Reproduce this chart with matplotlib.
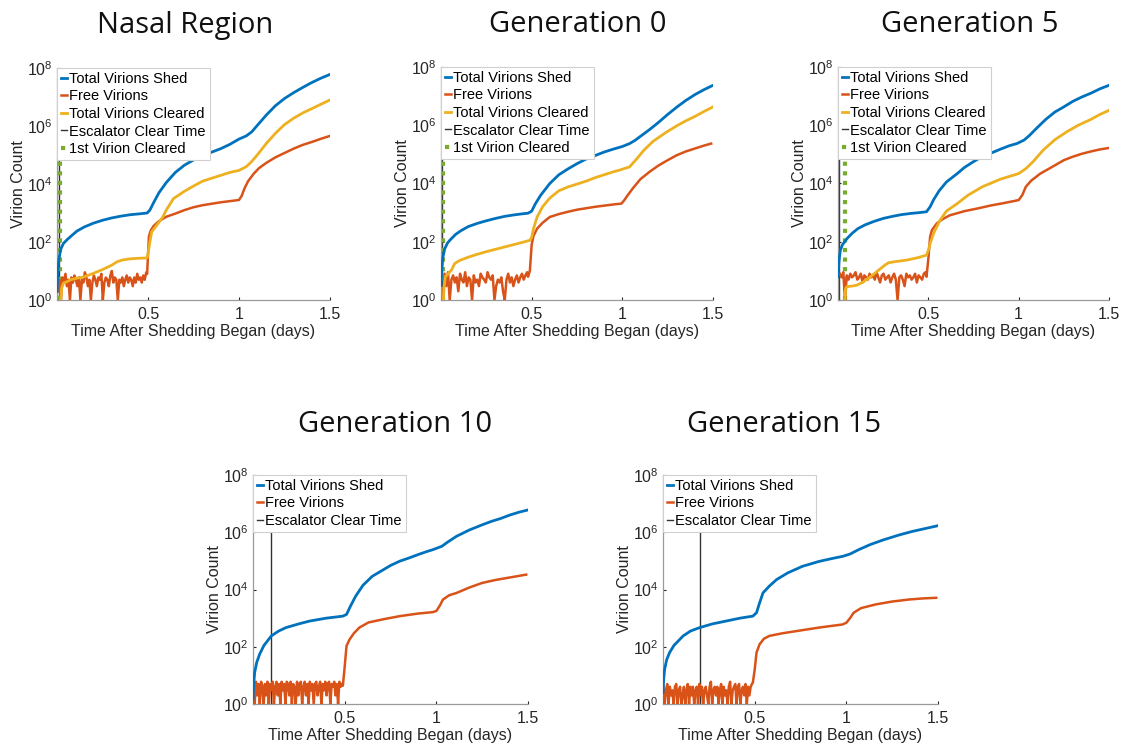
import numpy as np
import matplotlib.pyplot as plt

plt.rcParams['font.family'] = ['Liberation Sans', 'DejaVu Sans']

# MATLAB default colours
BLUE = '#0072bd'
ORANGE = '#d95319'
YELLOW = '#edb120'
GREEN = '#77ac30'

# ---------------- data (counts as log10) ----------------
# Nasal Region
nasal_shed_t = [0, 0.005, 0.01, 0.02, 0.035, 0.055, 0.08, 0.11, 0.15, 0.2, 0.25, 0.3, 0.35, 0.4, 0.45, 0.495,
                0.51, 0.53, 0.56, 0.6, 0.65, 0.7, 0.75, 0.8, 0.85, 0.9, 0.95, 1.0, 1.04, 1.07, 1.1, 1.15,
                1.2, 1.25, 1.3, 1.35, 1.4, 1.45, 1.5]
nasal_shed = [0.3, 1.0, 1.4, 1.75, 1.95, 2.08, 2.22, 2.38, 2.52, 2.65, 2.75, 2.83, 2.89, 2.94, 2.97, 3.0,
              3.1, 3.35, 3.7, 4.05, 4.4, 4.65, 4.83, 4.97, 5.1, 5.22, 5.37, 5.55, 5.66, 5.8, 6.02, 6.38,
              6.7, 6.95, 7.15, 7.33, 7.5, 7.65, 7.78]
nasal_free_early = [2, 5, 1, 6, 4, 8, 3, 5, 1, 6, 4, 7, 5, 3, 6, 1, 5, 4, 9, 6, 3, 5, 1, 4, 7, 5, 3, 6, 5, 8,
                    1, 4, 6, 5, 3, 7, 10, 4, 6, 5, 1, 5, 4, 6, 3, 5, 7, 4, 6, 5, 3, 6, 4, 8, 5, 6, 4, 7, 5, 9]
nasal_free_t = [0.495, 0.5, 0.505, 0.515, 0.53, 0.56, 0.6, 0.65, 0.7, 0.75, 0.8, 0.85, 0.9, 0.95, 1.0,
                1.015, 1.03, 1.05, 1.08, 1.11, 1.15, 1.2, 1.25, 1.3, 1.35, 1.4, 1.45, 1.5]
nasal_free = [0.9, 1.6, 2.2, 2.4, 2.55, 2.72, 2.87, 2.98, 3.1, 3.2, 3.27, 3.32, 3.37, 3.41, 3.45,
              3.6, 3.85, 4.1, 4.35, 4.55, 4.73, 4.92, 5.07, 5.22, 5.35, 5.45, 5.56, 5.66]
nasal_clr_t = [0.02, 0.025, 0.035, 0.05, 0.075, 0.1, 0.15, 0.2, 0.25, 0.3, 0.33, 0.36, 0.4, 0.45, 0.495,
               0.5, 0.51, 0.52, 0.55, 0.58, 0.6, 0.64, 0.7, 0.75, 0.8, 0.85, 0.9, 0.95, 1.0, 1.04, 1.07,
               1.1, 1.15, 1.2, 1.25, 1.3, 1.35, 1.4, 1.45, 1.5]
nasal_clr = [0, 0.4, 0.58, 0.62, 0.7, 0.74, 0.8, 0.92, 1.05, 1.2, 1.32, 1.38, 1.42, 1.44, 1.45,
             1.6, 2.0, 2.35, 2.6, 2.85, 3.1, 3.5, 3.75, 3.93, 4.1, 4.2, 4.3, 4.4, 4.47, 4.6, 4.78,
             5.0, 5.4, 5.75, 6.05, 6.27, 6.45, 6.6, 6.75, 6.9]
nasal_esc = 0.012
nasal_first = 0.016

# Generation 0
gen0_shed_t = [0, 0.005, 0.01, 0.02, 0.035, 0.05, 0.08, 0.11, 0.15, 0.2, 0.25, 0.3, 0.35, 0.4, 0.45, 0.48,
               0.5, 0.52, 0.55, 0.6, 0.65, 0.7, 0.75, 0.8, 0.85, 0.9, 0.95, 1.0, 1.04, 1.07, 1.1, 1.15,
               1.2, 1.25, 1.3, 1.35, 1.4, 1.45, 1.5]
gen0_shed = [0.5, 1.1, 1.45, 1.75, 1.95, 2.06, 2.25, 2.38, 2.52, 2.63, 2.72, 2.8, 2.87, 2.92, 2.96, 2.98,
             3.05, 3.3, 3.6, 4.0, 4.3, 4.5, 4.68, 4.84, 4.96, 5.08, 5.18, 5.27, 5.37, 5.48, 5.62, 5.85,
             6.1, 6.37, 6.62, 6.85, 7.05, 7.22, 7.37]
gen0_free_early = [1, 8, 3, 9, 1, 5, 7, 4, 6, 2, 8, 5, 4, 9, 3, 6, 5, 1, 7, 4, 5, 3, 8, 6, 5,
                   4, 9, 6, 5, 7, 1, 3, 5, 4, 6, 2, 1, 5, 8, 4, 6, 3, 5, 7, 4, 6, 8, 5, 7, 9]
gen0_free_t = [0.48, 0.49, 0.5, 0.51, 0.53, 0.56, 0.6, 0.65, 0.7, 0.75, 0.8, 0.85, 0.9, 0.95, 0.995,
               1.01, 1.03, 1.06, 1.1, 1.15, 1.2, 1.25, 1.3, 1.35, 1.4, 1.45, 1.49]
gen0_free = [0.8, 1.0, 1.9, 2.2, 2.45, 2.65, 2.85, 2.95, 3.03, 3.1, 3.15, 3.2, 3.24, 3.28, 3.31,
             3.42, 3.6, 3.85, 4.15, 4.4, 4.62, 4.8, 4.97, 5.1, 5.2, 5.3, 5.37]
gen0_clr_t = [0.013, 0.018, 0.024, 0.04, 0.06, 0.075, 0.1, 0.15, 0.2, 0.25, 0.3, 0.35, 0.4, 0.45, 0.49,
              0.5, 0.51, 0.53, 0.56, 0.6, 0.65, 0.7, 0.75, 0.8, 0.85, 0.9, 0.95, 0.985, 1.04, 1.08,
              1.12, 1.17, 1.24, 1.3, 1.35, 1.4, 1.45, 1.5]
gen0_clr = [0, 0.5, 0.8, 0.9, 1.05, 1.25, 1.35, 1.47, 1.57, 1.66, 1.74, 1.82, 1.9, 1.98, 2.05,
            2.15, 2.45, 2.85, 3.2, 3.5, 3.75, 3.88, 3.98, 4.08, 4.2, 4.3, 4.4, 4.46, 4.57, 4.85,
            5.15, 5.45, 5.75, 5.98, 6.15, 6.3, 6.47, 6.63]
gen0_esc = 0.008
gen0_first = 0.011

# Generation 5
gen5_shed_t = [0, 0.005, 0.013, 0.025, 0.05, 0.08, 0.11, 0.15, 0.2, 0.25, 0.3, 0.35, 0.4, 0.45, 0.49,
               0.51, 0.53, 0.56, 0.6, 0.66, 0.7, 0.75, 0.8, 0.85, 0.9, 0.95, 0.99, 1.03, 1.06, 1.1,
               1.15, 1.2, 1.25, 1.3, 1.35, 1.4, 1.45, 1.5]
gen5_shed = [0.8, 1.3, 1.71, 1.9, 2.11, 2.3, 2.45, 2.58, 2.7, 2.8, 2.87, 2.93, 2.97, 3.0, 3.03,
             3.2, 3.45, 3.75, 4.05, 4.34, 4.55, 4.75, 4.93, 5.05, 5.18, 5.3, 5.37, 5.49, 5.65, 5.9,
             6.2, 6.45, 6.63, 6.82, 6.97, 7.1, 7.25, 7.37]
gen5_free_early = [8, 6, 9, 1, 7, 5, 8, 6, 7, 9, 5, 6, 8, 4, 7, 6, 5, 8, 6, 7, 5, 9, 6, 4, 7,
                   8, 5, 6, 7, 4, 6, 8, 5, 1, 6, 7, 5, 3, 8, 6, 7, 5, 6, 8, 4, 7, 6, 5, 8, 9]
gen5_free_t = [0.49, 0.5, 0.51, 0.52, 0.547, 0.58, 0.62, 0.7, 0.77, 0.85, 0.92, 1.0, 1.02, 1.04, 1.07,
               1.12, 1.18, 1.25, 1.3, 1.35, 1.4, 1.45, 1.5]
gen5_free = [0.8, 1.4, 2.17, 2.4, 2.63, 2.78, 2.91, 3.05, 3.14, 3.25, 3.33, 3.43, 3.6, 3.89, 4.1,
             4.34, 4.55, 4.8, 4.92, 5.02, 5.1, 5.17, 5.22]
gen5_clr_t = [0.038, 0.042, 0.05, 0.08, 0.105, 0.14, 0.18, 0.22, 0.26, 0.28, 0.32, 0.38, 0.44, 0.49,
              0.5, 0.51, 0.53, 0.565, 0.6, 0.66, 0.72, 0.8, 0.9, 1.0, 1.04, 1.08, 1.135, 1.2, 1.265,
              1.33, 1.4, 1.45, 1.5]
gen5_clr = [0, 0.4, 0.46, 0.48, 0.51, 0.62, 0.8, 1.0, 1.2, 1.28, 1.32, 1.37, 1.45, 1.54,
            1.7, 1.94, 2.3, 2.74, 3.05, 3.31, 3.6, 3.89, 4.15, 4.34, 4.51, 4.75, 5.14, 5.5, 5.77,
            6.0, 6.2, 6.37, 6.51]
gen5_esc = 0.004
gen5_first = 0.037

# Generation 10
gen10_shed_t = [0, 0.004, 0.009, 0.02, 0.036, 0.06, 0.1, 0.14, 0.18, 0.25, 0.31, 0.4, 0.49, 0.51, 0.53,
                0.56, 0.6, 0.65, 0.7, 0.75, 0.8, 0.85, 0.9, 0.95, 0.98, 1.03, 1.06, 1.11, 1.18, 1.25,
                1.3, 1.35, 1.4, 1.45, 1.5]
gen10_shed = [0.17, 0.7, 1.1, 1.45, 1.74, 2.05, 2.38, 2.55, 2.67, 2.8, 2.9, 3.0, 3.07, 3.13, 3.4,
              3.77, 4.15, 4.46, 4.65, 4.84, 4.99, 5.1, 5.22, 5.33, 5.39, 5.51, 5.65, 5.86, 6.08, 6.26,
              6.38, 6.48, 6.6, 6.7, 6.78]
gen10_free_early = [5, 1, 6, 2, 5, 1, 6, 4, 1, 5, 2, 6, 1, 5, 3, 6, 1, 4, 6, 2, 5, 1, 6, 3, 5,
                    1, 6, 5, 2, 6, 1, 5, 4, 1, 6, 2, 5, 6, 1, 4, 6, 2, 5, 1, 6, 3, 5, 1, 5, 6,
                    2, 4, 6, 1, 5, 3, 6, 2, 5, 6, 1, 5, 4, 6, 2, 5, 1, 6, 4, 5]
gen10_free_t = [0.49, 0.5, 0.51, 0.527, 0.55, 0.58, 0.63, 0.71, 0.8, 0.9, 0.98, 1.0, 1.02, 1.036, 1.07,
                1.11, 1.18, 1.25, 1.32, 1.4, 1.49]
gen10_free = [0.64, 1.3, 2.03, 2.26, 2.47, 2.67, 2.85, 2.96, 3.07, 3.16, 3.21, 3.25, 3.45, 3.65, 3.8,
              3.88, 4.07, 4.23, 4.33, 4.42, 4.52]
gen10_esc = 0.097

# Generation 15
gen15_shed_t = [0, 0.004, 0.009, 0.02, 0.036, 0.06, 0.11, 0.15, 0.2, 0.27, 0.345, 0.42, 0.49, 0.51, 0.525,
                0.545, 0.58, 0.62, 0.68, 0.76, 0.85, 0.92, 0.98, 1.02, 1.07, 1.13, 1.2, 1.29, 1.36,
                1.43, 1.5]
gen15_shed = [0.4, 0.9, 1.22, 1.55, 1.8, 2.05, 2.38, 2.55, 2.67, 2.8, 2.9, 3.0, 3.07, 3.19, 3.5,
              3.88, 4.12, 4.35, 4.58, 4.81, 4.98, 5.08, 5.16, 5.24, 5.4, 5.57, 5.73, 5.91, 6.03,
              6.13, 6.23]
gen15_free_early = [4, 1, 3, 5, 1, 4, 2, 3, 1, 4, 5, 1, 3, 4, 1, 2, 4, 1, 3, 5, 1, 4, 2, 4, 1,
                    3, 4, 1, 5, 2, 4, 1, 3, 4, 2, 1, 4, 6, 1, 3, 4, 2, 4, 1, 3, 5, 1, 4, 2, 3,
                    1, 4, 6, 1, 3, 4, 5, 1, 4, 5, 1, 3, 4, 2, 5, 1, 4, 2, 4, 5]
gen15_free_t = [0.49, 0.5, 0.51, 0.527, 0.55, 0.58, 0.65, 0.73, 0.85, 0.98, 1.0, 1.02, 1.04, 1.08,
                1.16, 1.25, 1.34, 1.42, 1.49]
gen15_free = [0.75, 1.2, 1.8, 2.09, 2.28, 2.38, 2.47, 2.55, 2.67, 2.78, 2.84, 3.0, 3.19, 3.35,
              3.48, 3.58, 3.65, 3.69, 3.71]
gen15_esc = 0.204

titles = ['Nasal Region', 'Generation 0', 'Generation 5', 'Generation 10', 'Generation 15']


def draw_panel(ax, shed_t, shed, free_early, early_span, free_t, free, esc,
               clr_t=None, clr=None, first=None):
    t_early = np.linspace(early_span[0], early_span[1], len(free_early))
    ft = np.concatenate([t_early, free_t])
    fv = np.concatenate([free_early, 10.0 ** np.array(free)])
    ax.plot(shed_t, 10.0 ** np.array(shed), color=BLUE, lw=2, label='Total Virions Shed', zorder=4)
    ax.plot(ft, fv, color=ORANGE, lw=1.8, label='Free Virions', zorder=3)
    if clr is not None:
        ax.plot(clr_t, 10.0 ** np.array(clr), color=YELLOW, lw=2,
                label='Total Virions Cleared', zorder=3.5)
    ax.plot([esc, esc], [1, 1e8], color='#333333', lw=1, label='Escalator Clear Time', zorder=2)
    if first is not None:
        ax.plot([first, first], [1, 1e8], color=GREEN, lw=3, ls=(0, (1, 1.3)),
                label='1st Virion Cleared', zorder=2.5)

    ax.set_yscale('log')
    ax.set_xlim(0, 1.5)
    ax.set_ylim(1, 1e8)
    ax.set_yticks([1, 1e2, 1e4, 1e6, 1e8])
    ax.minorticks_off()
    ax.set_xticks([0.5, 1, 1.5])
    ax.set_xticklabels(['0.5', '1', '1.5'])
    ax.tick_params(direction='in', length=2, labelsize=11.5, colors='#262626')
    ax.tick_params(axis='x', pad=5)
    ax.tick_params(axis='y', pad=3)
    for s in ['top', 'right']:
        ax.spines[s].set_visible(False)
    for s in ['left', 'bottom']:
        ax.spines[s].set_color('#9a9a9a')
        ax.spines[s].set_linewidth(0.9)
    ax.set_xlabel('Time After Shedding Began (days)', fontsize=11.5, color='#262626', labelpad=1.5)
    ax.set_ylabel('Virion Count', fontsize=11.5, color='#262626', labelpad=1)
    leg = ax.legend(loc='upper left', bbox_to_anchor=(0, 1), borderaxespad=0,
                    fontsize=10.5, handlelength=0.45, handletextpad=0.15,
                    labelspacing=0.25, borderpad=0.25, fancybox=False,
                    framealpha=1, edgecolor='#d0d0d0')
    leg.get_frame().set_linewidth(0.8)
    leg.set_zorder(10)


fig = plt.figure(figsize=(11.23, 7.45), dpi=100)

boxes = [
    [0.0508, 0.5973, 0.2431, 0.3114],
    [0.3927, 0.5973, 0.2422, 0.3128],
    [0.7462, 0.5973, 0.2413, 0.3128],
    [0.2253, 0.0550, 0.2449, 0.3074],
    [0.5904, 0.0550, 0.2449, 0.3074],
]
axs = [fig.add_axes(b) for b in boxes]

draw_panel(axs[0], nasal_shed_t, nasal_shed, nasal_free_early, (0.005, 0.49),
           nasal_free_t, nasal_free, nasal_esc, nasal_clr_t, nasal_clr, nasal_first)
draw_panel(axs[1], gen0_shed_t, gen0_shed, gen0_free_early, (0.01, 0.475),
           gen0_free_t, gen0_free, gen0_esc, gen0_clr_t, gen0_clr, gen0_first)
draw_panel(axs[2], gen5_shed_t, gen5_shed, gen5_free_early, (0.01, 0.485),
           gen5_free_t, gen5_free, gen5_esc, gen5_clr_t, gen5_clr, gen5_first)
draw_panel(axs[3], gen10_shed_t, gen10_shed, gen10_free_early, (0.002, 0.485),
           gen10_free_t, gen10_free, gen10_esc)
draw_panel(axs[4], gen15_shed_t, gen15_shed, gen15_free_early, (0.002, 0.485),
           gen15_free_t, gen15_free, gen15_esc)

# panel titles
title_pos = [(185, 25), (578, 25), (970, 25), (395, 425), (784, 425)]
for (px, py), txt in zip(title_pos, titles):
    fig.text(px / 1123, 1 - py / 745, txt, ha='center', va='center',
             fontsize=21, family=['Open Sans', 'DejaVu Sans'], color='#111111')

fig.savefig('out.png', dpi=100)
